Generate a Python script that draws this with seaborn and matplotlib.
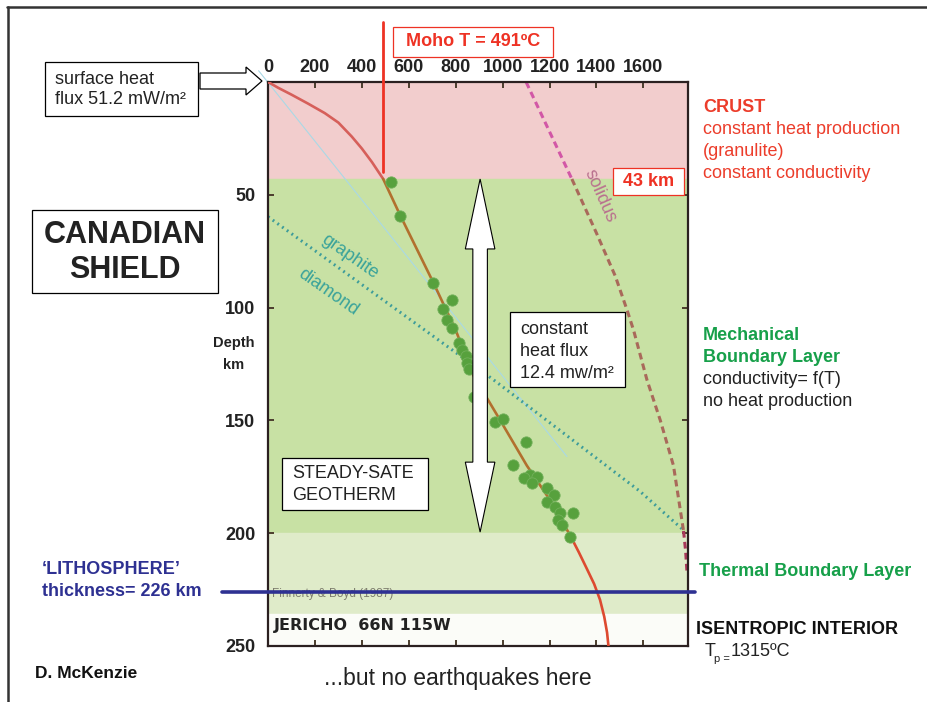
import matplotlib.pyplot as plt
import matplotlib.transforms as mtransforms
from matplotlib.patches import Rectangle, Polygon
from matplotlib.lines import Line2D
import seaborn as sns

# geotherm, temperature (C) against depth (km)
crust_T = [0, 44, 100, 171, 242, 300, 357, 400, 443, 491]
crust_depth = [0, 2.6, 5.6, 9.6, 13.8, 18.0, 24.2, 29.5, 35.5, 43]
mbl_T = [491, 563, 705, 800, 875, 990, 1103, 1200, 1288]
mbl_depth = [43, 59, 89, 110, 130, 150, 170, 185, 201]
tbl_T = [1288, 1325, 1360, 1390, 1415, 1433, 1445, 1451]
tbl_depth = [201, 208.5, 216, 222.5, 229.5, 237, 244, 250]

# xenolith P-T estimates (Finnerty & Boyd 1987)
xenolith_T = [524, 563, 705, 783, 745, 762, 783, 816, 826, 844, 850, 858, 878,
              968, 1001, 1100, 1046, 1117, 1146, 1089, 1124, 1188, 1217, 1188,
              1224, 1245, 1238, 1252, 1302, 1288]
xenolith_depth = [44.3, 59.4, 89.2, 96.6, 100.8, 105.5, 109.2, 115.8, 118.8,
                  121.5, 124.7, 127.4, 139.5, 150.6, 149.5, 159.4, 169.8, 174.3,
                  175.0, 175.7, 177.9, 180.1, 183.1, 186.0, 188.3, 191.2, 194.1,
                  196.4, 191.2, 201.5]

# peridotite solidus
solidus_crust_T = [1100, 1295]
solidus_crust_depth = [0, 43]
solidus_T = [1295, 1400, 1480, 1530, 1558, 1615, 1672, 1728, 1771]
solidus_depth = [43, 67, 86, 101, 110, 132, 150, 170, 199]
solidus_deep_T = [1771, 1780, 1786]
solidus_deep_depth = [199, 208, 218]

# graphite-diamond transition
graphite_T = [0, 961, 1586, 1770]
graphite_depth = [59.7, 132, 181.5, 198.6]

# conductive line from the surface heat flux
conductive_T = [-40, 1274]
conductive_depth = [-5, 166]

crust_base = 43
mbl_base = 200
tbl_base = 236
depth_max = 250
lithosphere = 226
moho_T = 491

x_ticks = [0, 200, 400, 600, 800, 1000, 1200, 1400, 1600]
y_ticks = [50, 100, 150, 200, 250]

sns.set_theme(style="white")
plt.rcParams['font.family'] = ['Liberation Sans', 'DejaVu Sans']

W, H = 928, 702
fig = plt.figure(figsize=(W / 100, H / 100), dpi=100)
px = mtransforms.Affine2D().scale(1 / W, -1 / H).translate(0, 1) + fig.transFigure
ax = fig.add_axes([268 / W, 1 - 646 / H, 420 / W, 564 / H])

# layers
ax.axhspan(0, crust_base, color="#f2cdcd", zorder=0)
ax.axhspan(crust_base, mbl_base, color="#c8e1a4", zorder=0)
ax.axhspan(mbl_base, tbl_base, color="#dfebc9", zorder=0)
ax.axhspan(tbl_base, depth_max, color="#fbfcf8", zorder=0)

sns.lineplot(x=conductive_T, y=conductive_depth, sort=False, estimator=None, ax=ax,
             color="#a9d9e6", lw=0.8, clip_on=False, zorder=2)
sns.lineplot(x=graphite_T, y=graphite_depth, sort=False, estimator=None, ax=ax,
             color="#3d9c9a", lw=2.2, linestyle=(0, (0.6, 1.3)), zorder=2)
sns.lineplot(x=solidus_crust_T, y=solidus_crust_depth, sort=False, estimator=None, ax=ax,
             color="#d257a6", lw=2.2, linestyle=(0, (2.2, 1.4)), zorder=2)
sns.lineplot(x=solidus_T, y=solidus_depth, sort=False, estimator=None, ax=ax,
             color="#a9695a", lw=2.2, linestyle=(0, (2.2, 1.4)), zorder=2)
sns.lineplot(x=solidus_deep_T, y=solidus_deep_depth, sort=False, estimator=None, ax=ax,
             color="#a8385a", lw=2.2, linestyle=(0, (2.2, 1.4)), zorder=2)

sns.lineplot(x=crust_T, y=crust_depth, sort=False, estimator=None, ax=ax,
             color="#d65f5a", lw=1.9, zorder=3)
sns.lineplot(x=mbl_T, y=mbl_depth, sort=False, estimator=None, ax=ax,
             color="#b2702e", lw=1.9, zorder=3)
sns.lineplot(x=tbl_T, y=tbl_depth, sort=False, estimator=None, ax=ax,
             color="#dd4a30", lw=1.9, zorder=3)

sns.scatterplot(x=xenolith_T, y=xenolith_depth, ax=ax, s=66, color="#57a13d",
                edgecolor="#72b05a", linewidth=0.6, zorder=4, legend=False)

# Moho marker
ax.plot([moho_T, moho_T], [40, -26.5], color="#ee3224", lw=2, clip_on=False, zorder=6)

# lithosphere thickness
ax.plot([-196, 1821], [lithosphere, lithosphere], color="#2e3192", lw=2.6,
        clip_on=False, zorder=6)

# white double arrow across the mechanical boundary layer
c, top, bot, w, hw, hl = 904, 43, 199.5, 31, 63, 31
ax.add_patch(Polygon([(c, top), (c + hw, top + hl), (c + w, top + hl), (c + w, bot - hl),
                      (c + hw, bot - hl), (c, bot), (c - hw, bot - hl), (c - w, bot - hl),
                      (c - w, top + hl), (c - hw, top + hl)],
                     closed=True, facecolor="white", edgecolor="black", lw=0.8, zorder=5))

ax.text(1416, 50.5, "solidus", color="#b9708e", fontsize=13, rotation=-66,
        ha="center", va="center", zorder=3)
ax.text(350, 77.6, "graphite", color="#3aa39a", fontsize=13, rotation=-35,
        ha="center", va="center", zorder=3)
ax.text(256, 93, "diamond", color="#3aa39a", fontsize=13, rotation=-35,
        ha="center", va="center", zorder=3)
ax.text(18, 227, "Finnerty & Boyd (1987)", color="#7d7d6d", fontsize=8.5,
        ha="left", va="center", zorder=2)
ax.text(25, 240.7, "JERICHO  66N 115W", family="DejaVu Sans", weight="bold",
        fontsize=11.5, color="#222222", ha="left", va="center", zorder=3)

ax.set_xlim(0, 1790)
ax.set_ylim(depth_max, 0)
ax.set_xticks(x_ticks)
ax.set_yticks(y_ticks)
ax.set_xlabel("")
ax.set_ylabel("")
ax.tick_params(axis="x", top=True, bottom=True, labeltop=True, labelbottom=False,
               direction="in", length=4.5, width=1.4, color="#4b3d2d", pad=4,
               labelsize=13, labelcolor="#222222")
ax.tick_params(axis="y", left=True, right=True, direction="in", length=4.5, width=1.4,
               color="#4b3d2d", pad=9, labelsize=13, labelcolor="#222222")
for lab in ax.get_xticklabels() + ax.get_yticklabels():
    lab.set_fontweight("bold")
for s in ax.spines.values():
    s.set_color("#2b2020")
    s.set_linewidth(1.6)

# figure frame
fig.add_artist(Line2D([7, W], [7, 7], transform=px, color="#333333", lw=1.8))
fig.add_artist(Line2D([8, 8], [7, H], transform=px, color="#333333", lw=1.8))


def box(x0, y0, x1, y1, ec="black"):
    fig.add_artist(Rectangle((x0, y0), x1 - x0, y1 - y0, transform=px,
                             facecolor="white", edgecolor=ec, lw=0.9, zorder=4))


def label(x, y, s, **kw):
    kw.setdefault("fontsize", 13)
    kw.setdefault("va", "center")
    kw.setdefault("ha", "left")
    fig.text(x, y, s, transform=px, zorder=5, **kw)


# boxes
box(393, 27, 553, 57, ec="#ee3224")
label(473, 42, "Moho T = 491ºC", color="#ee3224", weight="bold", ha="center")
box(613, 168, 684, 195, ec="#ee3224")
label(648.5, 181.5, "43 km", color="#ee3224", weight="bold", ha="center")
box(45, 62, 198, 116)
label(55, 79, "surface heat", color="#222222")
label(55, 100, "flux 51.2 mW/m²", color="#222222")
fig.add_artist(Polygon([(200, 73), (246, 73), (246, 67), (262, 81), (246, 95), (246, 89),
                        (200, 89)], closed=True, transform=px, facecolor="white",
                       edgecolor="black", lw=0.9, zorder=4))
box(32, 210, 218, 293)
label(125, 235, "CANADIAN", fontsize=22, weight="bold", ha="center", color="#222222")
label(125, 270, "SHIELD", fontsize=22, weight="bold", ha="center", color="#222222")
box(510, 312, 625, 387)
label(520, 330, "constant", color="#222222")
label(520, 352, "heat flux", color="#222222")
label(520, 374, "12.4 mw/m²", color="#222222")
box(282, 458, 428, 510)
label(292, 474, "STEADY-SATE", color="#222222")
label(292, 496, "GEOTHERM", color="#222222")

label(234, 343, "Depth", weight="bold", fontsize=10.5, ha="center", color="#222222")
label(234, 365, "km", weight="bold", fontsize=10.5, ha="center", color="#222222")

# right-hand legend text
red = "#ec3d2b"
green = "#17a04a"
label(703, 107, "CRUST", color=red, weight="bold")
label(703, 130, "constant heat production", color=red)
label(703, 152, "(granulite)", color=red)
label(703, 173, "constant conductivity", color=red)
label(703, 336, "Mechanical", color=green, weight="bold")
label(703, 357, "Boundary Layer", color=green, weight="bold")
label(703, 380, "conductivity= f(T)", color="#222222")
label(703, 401, "no heat production", color="#222222")
label(699, 571, "Thermal Boundary Layer", color=green, weight="bold")
label(696, 630, "ISENTROPIC INTERIOR", color="#111111", weight="bold")
label(705, 651, "T", color="#222222")
label(714, 659, "p =", color="#222222", fontsize=8)
label(731, 651, "1315ºC", color="#222222")

label(42, 570, "‘LITHOSPHERE’", color="#2e3192", weight="bold")
label(42, 592, "thickness= 226 km", color="#2e3192", weight="bold")
label(35, 674, "D. McKenzie", color="#111111", weight="bold", fontsize=12.5)
label(458, 678, "...but no earthquakes here", color="#222222", fontsize=16.5, ha="center")

fig.savefig("out.png", dpi=100, facecolor="white")
